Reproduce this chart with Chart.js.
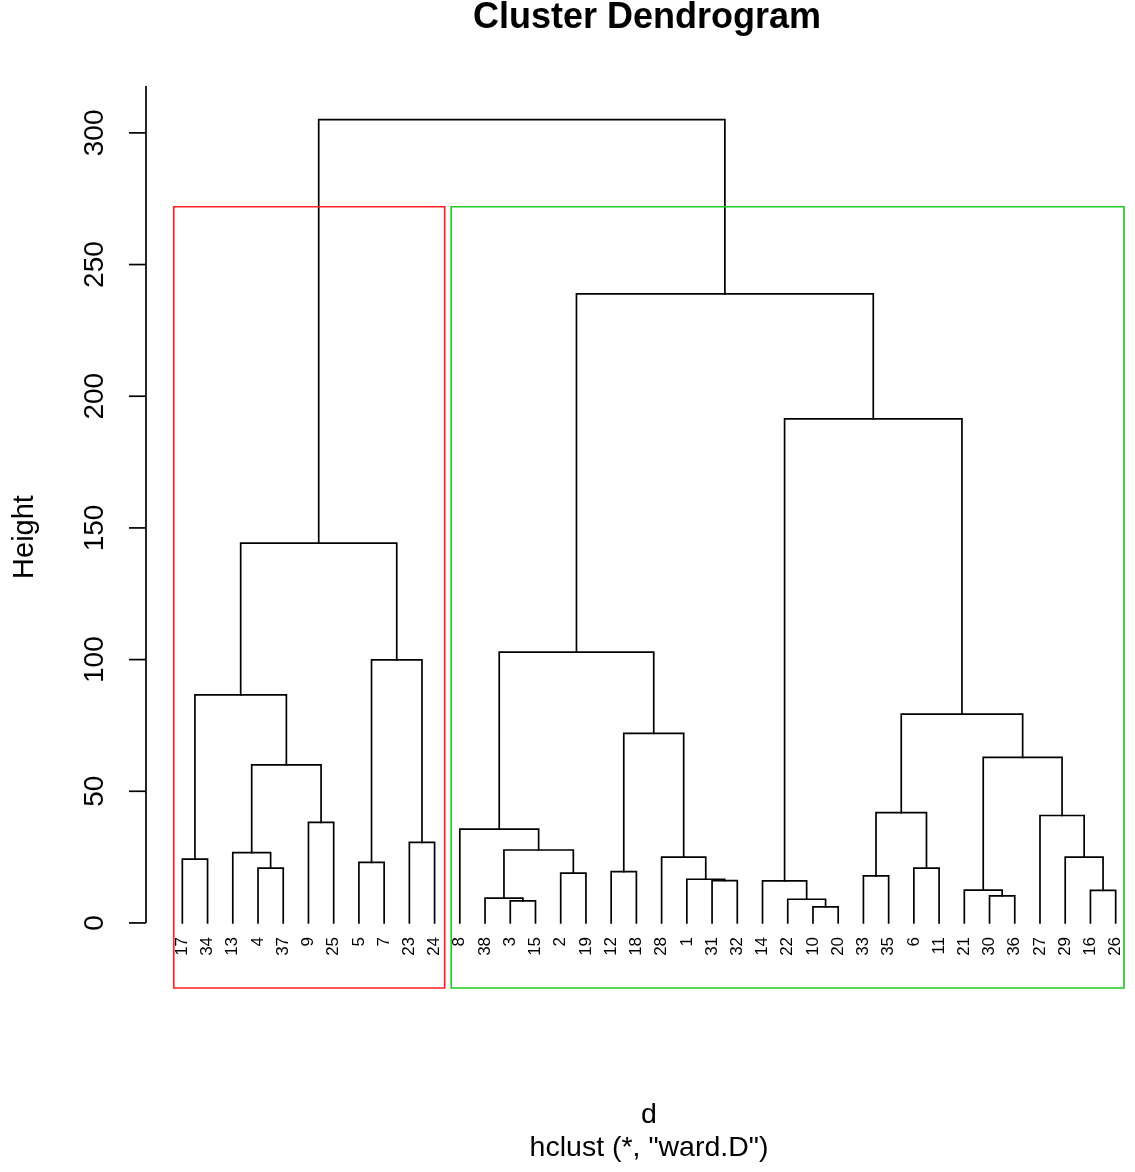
<!DOCTYPE html>
<html>
<head>
<meta charset="utf-8">
<title>Cluster Dendrogram</title>
<script src="https://cdn.jsdelivr.net/npm/chart.js@4/dist/chart.umd.min.js"></script>
<style>
  html, body { margin: 0; padding: 0; background: #fff; overflow: hidden; }
  canvas { display: block; }
</style>
</head>
<body>
<canvas id="dendro" width="1160" height="1172"></canvas>
<script>
// leaf labels in plotting order (left to right)
const leafOrder = [17, 34, 13, 4, 37, 9, 25, 5, 7, 23, 24,
  8, 38, 3, 15, 2, 19, 12, 18, 28, 1, 31, 32, 14, 22, 10, 20,
  33, 35, 6, 11, 21, 30, 36, 27, 29, 16, 26];

// merge steps, R style: negative = leaf label, positive = earlier step (1-based)
const mergeLeft  = [-10, -3, -22, -38, -30, -21, -16, -14, -31, -1, -33, -2, -12, -4, -6, -5, -17, -28, -29, -13,
  4, -23, -8, -9, -27, 11, 20, 6, 13, 26, 17, 16, 23, 31, 8, 33, 34];
const mergeRight = [-20, -15, 1, 2, -36, 5, -26, 3, -32, 9, -35, -19, -18, -37, -11, -7, -34, 10, 7, 14,
  12, -24, 21, -25, 19, 15, 24, 25, 18, 28, 27, 22, 29, 32, 30, 35, 36];
const mergeHeight = [6.1, 8.4, 9.0, 9.4, 10.3, 12.5, 12.4, 16.0, 16.1, 16.6, 17.9, 18.9, 19.5, 20.8, 20.8, 23.0, 24.2, 25.0, 25.0, 26.7,
  27.7, 30.6, 35.6, 38.2, 40.8, 41.9, 60.0, 62.9, 72.0, 79.3, 86.6, 99.9, 102.8, 144.2, 191.4, 238.9, 305.0];

const yTicks = [0, 50, 100, 150, 200, 250, 300];

const titleText = 'Cluster Dendrogram';
const yTitle = 'Height';
const xTitle = 'd';
const subTitle = 'hclust (*, "ward.D")';

const FONT = '"Liberation Sans", Arial, sans-serif';

// position of each node on the x axis (leaf = index+1)
const nodeX = [];
function posOf(ref) {
  if (ref < 0) return leafOrder.indexOf(-ref) + 1;
  return nodeX[ref - 1];
}
function heightOf(ref) {
  return ref < 0 ? 0 : mergeHeight[ref - 1];
}
function sizeOf(ref) {
  return ref < 0 ? 1 : sizeOf(mergeLeft[ref - 1]) + sizeOf(mergeRight[ref - 1]);
}

const datasets = [];
for (let i = 0; i < mergeHeight.length; i++) {
  const xl = posOf(mergeLeft[i]);
  const xr = posOf(mergeRight[i]);
  nodeX.push((xl + xr) / 2);
  datasets.push({
    data: [
      { x: xl, y: heightOf(mergeLeft[i]) },
      { x: xl, y: mergeHeight[i] },
      { x: xr, y: mergeHeight[i] },
      { x: xr, y: heightOf(mergeRight[i]) }
    ],
    borderColor: '#000',
    borderWidth: 1.7
  });
}

// rect.hclust(k = 2) boxes
const n = mergeHeight.length;
const cutTop = (mergeHeight[n - 1] + mergeHeight[n - 2]) / 2;
const leftSize = sizeOf(mergeLeft[n - 1]);
const boxBottom = -24.7;
const boxes = [
  { x0: 0.66, x1: leftSize + 0.4, color: '#ff2020' },
  { x0: leftSize + 0.66, x1: leafOrder.length + 0.33, color: '#22cc22' }
];
boxes.forEach(b => {
  datasets.unshift({
    data: [
      { x: b.x0, y: boxBottom }, { x: b.x0, y: cutTop },
      { x: b.x1, y: cutTop }, { x: b.x1, y: boxBottom }, { x: b.x0, y: boxBottom }
    ],
    borderColor: b.color,
    borderWidth: 1.7,
    clip: false
  });
});

const textPlugin = {
  id: 'dendroText',
  afterDraw(chart) {
    const ctx = chart.ctx;
    const xs = chart.scales.x, ys = chart.scales.y;
    const axisX = chart.chartArea.left + 1;
    ctx.save();
    ctx.fillStyle = '#000';
    ctx.strokeStyle = '#000';
    ctx.lineWidth = 1.7;

    // y axis line from 0 up to the top of the plot region
    ctx.beginPath();
    ctx.moveTo(axisX, ys.getPixelForValue(0));
    ctx.lineTo(axisX, chart.chartArea.top);
    ctx.stroke();

    ctx.font = '28px ' + FONT;
    ctx.textAlign = 'center';
    ctx.textBaseline = 'alphabetic';
    yTicks.forEach(t => {
      const py = ys.getPixelForValue(t);
      ctx.beginPath();
      ctx.moveTo(axisX, py);
      ctx.lineTo(axisX - 17, py);
      ctx.stroke();
      ctx.save();
      ctx.translate(103, py);
      ctx.rotate(-Math.PI / 2);
      ctx.fillText(String(t), 0, 0);
      ctx.restore();
    });

    // leaf labels
    ctx.font = '17px ' + FONT;
    ctx.textAlign = 'right';
    ctx.textBaseline = 'middle';
    const ly = ys.getPixelForValue(0) + 14;
    leafOrder.forEach((lab, i) => {
      ctx.save();
      ctx.translate(xs.getPixelForValue(i + 1), ly);
      ctx.rotate(-Math.PI / 2);
      ctx.fillText(String(lab), 0, 0);
      ctx.restore();
    });

    const cx = (chart.chartArea.left + chart.chartArea.right) / 2;
    ctx.textAlign = 'center';
    ctx.textBaseline = 'alphabetic';
    ctx.font = 'bold 36px ' + FONT;
    ctx.fillText(titleText, cx - 2, 28);

    ctx.font = '28.5px ' + FONT;
    ctx.fillText(xTitle, cx, 1123);
    ctx.fillText(subTitle, cx, 1156);

    ctx.font = '29px ' + FONT;
    ctx.save();
    ctx.translate(33, 537);
    ctx.rotate(-Math.PI / 2);
    ctx.fillText(yTitle, 0, 0);
    ctx.restore();

    ctx.restore();
  }
};

new Chart(document.getElementById('dendro'), {
  type: 'scatter',
  data: { datasets },
  options: {
    responsive: false,
    animation: false,
    devicePixelRatio: 1,
    showLine: true,
    elements: {
      point: { radius: 0, hoverRadius: 0 },
      line: { tension: 0, fill: false, borderCapStyle: 'square' }
    },
    layout: { padding: { left: 145, right: 7, top: 86, bottom: 184 } },
    scales: {
      x: { type: 'linear', min: -0.48, max: leafOrder.length + 1.48, display: false },
      y: { type: 'linear', min: -24.7, max: 317.8, display: false }
    },
    plugins: {
      legend: { display: false },
      tooltip: { enabled: false },
      title: { display: false }
    },
    events: []
  },
  plugins: [textPlugin]
});
</script>
</body>
</html>
